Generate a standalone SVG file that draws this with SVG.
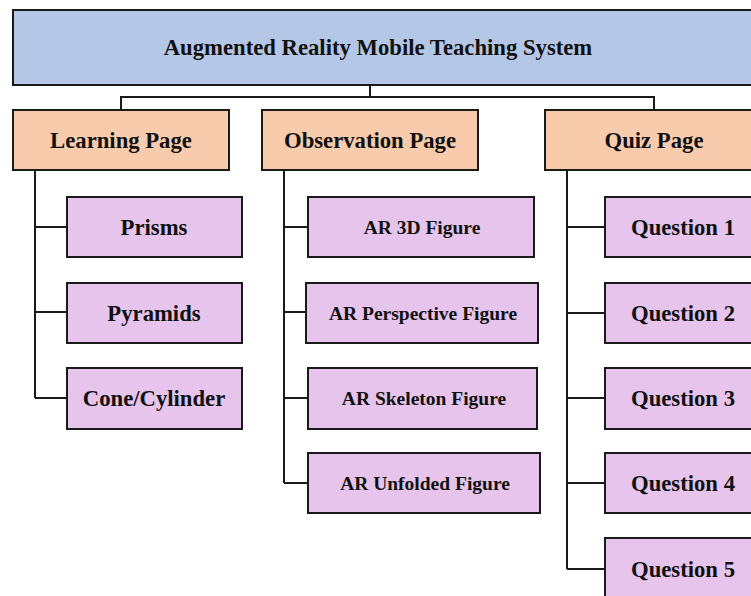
<svg xmlns="http://www.w3.org/2000/svg" width="751" height="596" viewBox="0 0 751 596">
<style>
rect{stroke:#1a1a1a;stroke-width:2}
.root{fill:#B4C7E7}
.mid{fill:#F8CBAD}
.leaf{fill:#E6C4EC}
text{font-family:"Liberation Serif","Times New Roman",serif;font-weight:bold;fill:#111;text-anchor:middle;dominant-baseline:central}
.t1{font-size:22.7px}
.t2{font-size:22.7px}
.t3{font-size:22.7px}
.t4{font-size:19.5px}
#connectors path{fill:none;stroke:#1a1a1a;stroke-width:2}
</style>
<rect width="751" height="596" fill="#fff" stroke="none" style="stroke:none"/>
<g id="connectors">
<path d="M370 85V97M121 110V97H654V110"/>
<path d="M35 170V398M35 227H67M35 312H67M35 398H67"/>
<path d="M284 170V483M284 227H308M284 312H306M284 398H308M284 483H308"/>
<path d="M567 170V569M567 227H605M567 313H605M567 398H605M567 483H605M567 569H605"/>
</g>
<g id="root"><rect class="root" x="13" y="10" width="760" height="75"/><text class="t1" x="378" y="47">Augmented Reality Mobile Teaching System</text></g>
<g id="learning"><rect class="mid" x="13" y="110" width="216" height="60"/><text class="t2" x="121" y="140">Learning Page</text></g>
<g id="observation"><rect class="mid" x="262" y="110" width="216" height="60"/><text class="t2" x="370" y="140">Observation Page</text></g>
<g id="quiz"><rect class="mid" x="545" y="110" width="218" height="60"/><text class="t2" x="654" y="140">Quiz Page</text></g>
<g id="prisms"><rect class="leaf" x="67" y="197" width="175" height="60"/><text class="t3" x="154" y="227">Prisms</text></g>
<g id="pyramids"><rect class="leaf" x="67" y="283" width="175" height="60"/><text class="t3" x="154" y="313">Pyramids</text></g>
<g id="cone"><rect class="leaf" x="67" y="368" width="175" height="61"/><text class="t3" x="154" y="398">Cone/Cylinder</text></g>
<g id="ar3d"><rect class="leaf" x="308" y="197" width="226" height="60"/><text class="t4" x="422" y="227">AR 3D Figure</text></g>
<g id="arpersp"><rect class="leaf" x="306" y="283" width="232" height="60"/><text class="t4" x="423" y="313">AR Perspective Figure</text></g>
<g id="arskel"><rect class="leaf" x="308" y="368" width="229" height="61"/><text class="t4" x="424" y="398">AR Skeleton Figure</text></g>
<g id="arunf"><rect class="leaf" x="308" y="453" width="232" height="60"/><text class="t4" x="425" y="483">AR Unfolded Figure</text></g>
<g id="q1"><rect class="leaf" x="605" y="197" width="160" height="60"/><text class="t3" x="683" y="227">Question 1</text></g>
<g id="q2"><rect class="leaf" x="605" y="283" width="160" height="60"/><text class="t3" x="683" y="313">Question 2</text></g>
<g id="q3"><rect class="leaf" x="605" y="368" width="160" height="61"/><text class="t3" x="683" y="398">Question 3</text></g>
<g id="q4"><rect class="leaf" x="605" y="453" width="160" height="60"/><text class="t3" x="683" y="483">Question 4</text></g>
<g id="q5"><rect class="leaf" x="605" y="538" width="160" height="70"/><text class="t3" x="683" y="569">Question 5</text></g>
</svg>
